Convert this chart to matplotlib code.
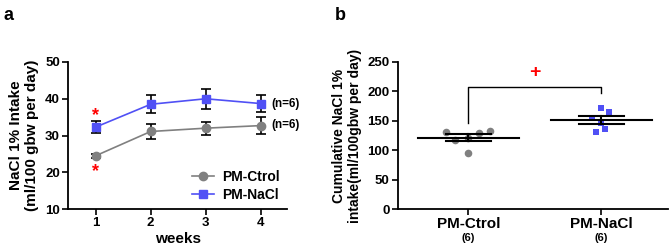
import matplotlib.pyplot as plt
import numpy as np
from matplotlib.lines import Line2D

plt.rcParams['font.family'] = ['Liberation Sans', 'DejaVu Sans']
plt.rcParams['font.weight'] = 'bold'
plt.rcParams['axes.labelweight'] = 'bold'
plt.rcParams['axes.linewidth'] = 1.3

# data - panel a
weeks = [1, 2, 3, 4]
ctrol_mean = [24.5, 31.1, 32.0, 32.7]
ctrol_sem = [0.5, 2.0, 1.8, 2.4]
nacl_mean = [32.3, 38.5, 40.0, 38.7]
nacl_sem = [1.6, 2.4, 2.7, 2.3]

# data - panel b
groups = ['PM-Ctrol', 'PM-NaCl']
group_n = ['(6)', '(6)']
ctrol_pts = [131, 95, 129, 133, 118, 120]
nacl_pts = [172, 165, 155, 136, 131, 147]
ctrol_xoff = [-0.17, 0.0, 0.08, 0.16, -0.1, 0.0]
nacl_xoff = [0.0, 0.06, -0.07, 0.03, -0.04, 0.0]

gray = '#808080'
blue = '#5050f5'

fig = plt.figure(figsize=(6.69, 2.48), dpi=100)
ax1 = fig.add_axes([0.102, 0.157, 0.327, 0.593])
ax2 = fig.add_axes([0.595, 0.157, 0.403, 0.593])

# ---- panel a ----
ax1.errorbar(weeks, ctrol_mean, yerr=ctrol_sem, color=gray, marker='o', ms=6,
             lw=1.2, ecolor='black', elinewidth=1.2, capsize=3.5, capthick=1.2,
             zorder=3)
ax1.errorbar(weeks, nacl_mean, yerr=nacl_sem, color=blue, marker='s', ms=6,
             lw=1.2, ecolor='black', elinewidth=1.2, capsize=3.5, capthick=1.2,
             zorder=3)
ax1.set_xlim(0.5, 4.48)
ax1.set_ylim(10, 50)
ax1.set_xticks(weeks)
ax1.set_yticks([10, 20, 30, 40, 50])
ax1.set_xlabel('weeks', fontsize=11, labelpad=2)
ax1.set_ylabel('NaCl 1% Intake\n(ml/100 gbw per day)', fontsize=11, labelpad=4)
ax1.text(1, 35.3, '*', color='red', fontsize=13, ha='center', va='center')
ax1.text(1, 20.2, '*', color='red', fontsize=13, ha='center', va='center')
ax1.text(4.2, nacl_mean[-1], '(n=6)', fontsize=8.5, va='center')
ax1.text(4.2, ctrol_mean[-1] + 0.3, '(n=6)', fontsize=8.5, va='center')
handles = [Line2D([], [], color=gray, marker='o', ms=6, lw=1.2),
           Line2D([], [], color=blue, marker='s', ms=6, lw=1.2)]
ax1.legend(handles, ['PM-Ctrol', 'PM-NaCl'], loc='lower right', frameon=False,
           fontsize=10, handlelength=1.6, borderaxespad=0.1, handletextpad=0.6,
           labelspacing=0.3)

# ---- panel b ----
ax2.scatter(np.zeros(len(ctrol_pts)) + ctrol_xoff, ctrol_pts, color=gray, s=30, marker='o', zorder=2, lw=0)
ax2.scatter(np.ones(len(nacl_pts)) + nacl_xoff, nacl_pts, color=blue, s=22, marker='s', zorder=2, lw=0)
for i, pts in enumerate([ctrol_pts, nacl_pts]):
    m = np.mean(pts)
    se = np.std(pts, ddof=1) / np.sqrt(len(pts))
    ax2.plot([i - 0.38, i + 0.38], [m, m], color='black', lw=1.5, zorder=3)
    ax2.plot([i - 0.17, i + 0.17], [m - se, m - se], color='black', lw=1.5, zorder=3)
    ax2.plot([i - 0.17, i + 0.17], [m + se, m + se], color='black', lw=1.5, zorder=3)
    ax2.plot([i, i], [m - se, m + se], color='black', lw=1.5, zorder=3)
ax2.plot([0, 0, 1, 1], [146, 207, 207, 197], color='black', lw=1)
ax2.text(0.5, 232, '+', color='red', fontsize=14, ha='center', va='center')
ax2.set_xlim(-0.53, 1.5)
ax2.set_ylim(0, 250)
ax2.set_yticks([0, 50, 100, 150, 200, 250])
ax2.set_xticks([0, 1])
ax2.set_xticklabels(groups, fontsize=11)
for i, n in enumerate(group_n):
    ax2.text(i, -0.165, n, transform=ax2.get_xaxis_transform(), fontsize=8,
             ha='center', va='top')
ax2.set_ylabel('Cumulative NaCl 1%\nintake(ml/100gbw per day)', fontsize=10, labelpad=4)

for ax in (ax1, ax2):
    ax.spines['top'].set_visible(False)
    ax.spines['right'].set_visible(False)
    ax.tick_params(direction='out', length=4, width=1.2, labelsize=9.5, pad=2)
    for lab in ax.get_xticklabels() + ax.get_yticklabels():
        lab.set_fontweight('bold')
ax2.tick_params(axis='x', labelsize=11)

fig.text(0.005, 0.97, 'a', fontsize=13, fontweight='bold', va='top')
fig.text(0.5, 0.97, 'b', fontsize=13, fontweight='bold', va='top')

fig.savefig('out.png', dpi=100)
